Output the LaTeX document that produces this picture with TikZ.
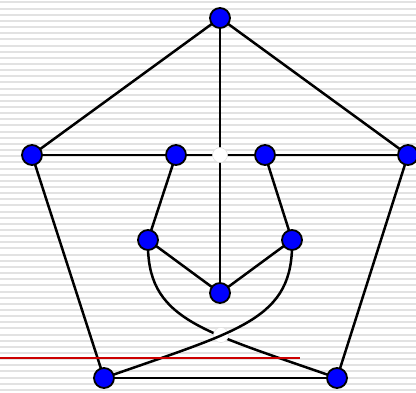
\documentclass[tikz,border=0pt]{standalone}
\usetikzlibrary{calc}
\definecolor{vblue}{RGB}{0,0,255}
\definecolor{redline}{RGB}{204,0,0}
\definecolor{stripegray}{RGB}{226,226,226}
\tikzset{
  vtx/.style={circle,fill=vblue,draw=black,line width=1.8pt,minimum size=20pt,inner sep=0pt},
  edge/.style={line width=2.5pt,black},
  gapdot/.style={circle,fill=white,draw=gray!25,line width=0.5pt,minimum size=15pt,inner sep=0pt},
  stripe/.style={line width=2pt,stripegray}
}
\begin{document}
\begin{tikzpicture}[x=1pt,y=-1pt]
\useasboundingbox (0,0) rectangle (416,393);
\clip (0,0) rectangle (416,393);
\fill[white] (0,0) rectangle (416,393);
\foreach \i in {0,...,64} {
  \draw[stripe] (0,{2.5+6.15*\i}) -- (416,{2.5+6.15*\i});
}
% vertices
\coordinate (T) at (220,18);
\coordinate (L) at (32,155);
\coordinate (R) at (408,155);
\coordinate (IL) at (176,155);
\coordinate (IR) at (265,155);
\coordinate (ML) at (148,240);
\coordinate (MR) at (292,240);
\coordinate (C) at (220,293);
\coordinate (BL) at (104,378);
\coordinate (BR) at (337,378);
\coordinate (X1) at (220,155);
\coordinate (X2) at (221,335);
\coordinate (RA) at (0,358);
\coordinate (RB) at (300,358);
% edges
\draw[edge] (T) -- (L);
\draw[edge] (T) -- (R);
\draw[edge] (T) -- (C);
\draw[edge] (L) -- (R);
\draw[edge] (L) -- (BL);
\draw[edge] (R) -- (BR);
\draw[edge] (BL) -- (BR);
\draw[edge] (IL) -- (ML);
\draw[edge] (IR) -- (MR);
\draw[edge] (ML) -- (C);
\draw[edge] (MR) -- (C);
\draw[edge] (ML) .. controls (146,320) and (200,330) .. (BR);
\node[gapdot] (g1) at (X1) {};
\node[gapdot] (g2) at (X2) {};
\draw[edge] (MR) .. controls (294,320) and (240,330) .. (BL);
\draw[line width=2pt,redline] (RA) -- (RB);
% vertex nodes
\node[vtx] (nT) at (T) {};
\node[vtx] (nL) at (L) {};
\node[vtx] (nR) at (R) {};
\node[vtx] (nIL) at (IL) {};
\node[vtx] (nIR) at (IR) {};
\node[vtx] (nML) at (ML) {};
\node[vtx] (nMR) at (MR) {};
\node[vtx] (nC) at (C) {};
\node[vtx] (nBL) at (BL) {};
\node[vtx] (nBR) at (BR) {};
\end{tikzpicture}
\end{document}
